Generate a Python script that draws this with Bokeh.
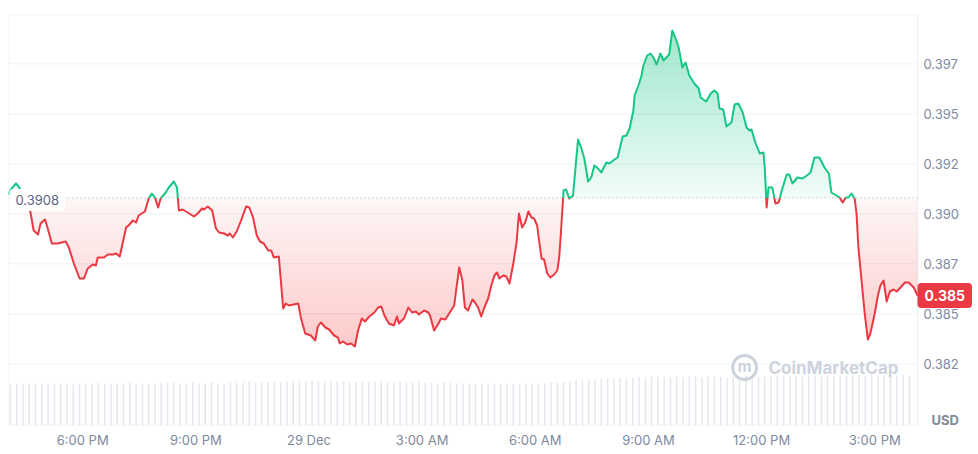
import math
import numpy as np
from bokeh.plotting import figure
from bokeh.models import Range1d, FixedTicker, Label
from bokeh.core.properties import value
from bokeh.embed import file_html
from bokeh.resources import INLINE

# ---- data -------------------------------------------------------------
# minutes since 28 Dec 16:00
minutes = [2, 7, 14, 18, 25, 31, 37, 42, 49, 53, 60, 64, 71, 80, 93, 98, 106, 115, 122, 128,
           136, 141, 144, 154, 160, 168, 173, 179, 189, 193, 200, 205, 209, 219, 225, 230, 235, 240, 244, 252,
           257, 265, 270, 273, 279, 287, 297, 303, 310, 313, 319, 326, 332, 337, 345, 351, 354, 359, 365, 372,
           380, 385, 391, 397, 402, 408, 415, 420, 424, 432, 439, 443, 448, 463, 467, 474, 483, 490, 494, 499,
           506, 512, 520, 526, 529, 534, 541, 547, 553, 558, 564, 569, 576, 584, 590, 595, 600, 607, 615, 620,
           623, 631, 638, 644, 650, 655, 663, 670, 673, 679, 686, 690, 697, 703, 711, 714, 719, 724, 728, 733,
           740, 744, 749, 754, 759, 765, 770, 775, 779, 783, 789, 794, 799, 805, 810, 814, 819, 824, 829, 834,
           838, 843, 846, 850, 854, 859, 864, 870, 875, 878, 881, 885, 889, 894, 900, 908, 913, 918, 924, 929,
           934, 940, 945, 953, 958, 966, 971, 979, 985, 990, 996, 998, 1004, 1009, 1012, 1018, 1023, 1028, 1033, 1039,
           1044, 1053, 1058, 1065, 1068, 1074, 1079, 1085, 1093, 1100, 1103, 1112, 1119, 1125, 1130, 1133, 1139, 1144, 1152, 1157,
           1163, 1170, 1176, 1181, 1184, 1190, 1197, 1203, 1205, 1208, 1211, 1217, 1222, 1227, 1233, 1240, 1244, 1249, 1257, 1265,
           1272, 1278, 1284, 1292, 1300, 1307, 1311, 1319, 1324, 1329, 1334, 1338, 1343, 1348, 1351, 1354, 1359, 1364, 1369, 1373,
           1380, 1385, 1389, 1394, 1399, 1404, 1410, 1415, 1421, 1428, 1434, 1442, 1448]

prices = [0.39097, 0.39127, 0.39152, 0.39137, 0.39102, 0.39062, 0.39007, 0.38917, 0.38897, 0.38952,
          0.38972, 0.38932, 0.38852, 0.38852, 0.38862, 0.38832, 0.38752, 0.38677, 0.38677, 0.38727,
          0.38747, 0.38742, 0.38782, 0.38782, 0.38797, 0.38797, 0.38802, 0.38787, 0.38932, 0.38942,
          0.38967, 0.38957, 0.38992, 0.39012, 0.39077, 0.39102, 0.39082, 0.39032, 0.39077, 0.39107,
          0.39132, 0.39162, 0.39132, 0.39017, 0.39022, 0.39007, 0.38987, 0.39002, 0.39027, 0.39022,
          0.39037, 0.39017, 0.38927, 0.38907, 0.38902, 0.38892, 0.38902, 0.38882, 0.38912, 0.38967,
          0.39037, 0.39032, 0.38982, 0.38892, 0.38862, 0.38852, 0.38817, 0.38817, 0.38782, 0.38787,
          0.38527, 0.38552, 0.38542, 0.38552, 0.38482, 0.38402, 0.38392, 0.38367, 0.38437, 0.38457,
          0.38432, 0.38422, 0.38392, 0.38382, 0.38352, 0.38362, 0.38347, 0.38352, 0.38337, 0.38417,
          0.38477, 0.38462, 0.38487, 0.38507, 0.38532, 0.38537, 0.38492, 0.38452, 0.38442, 0.38487,
          0.38452, 0.38477, 0.38532, 0.38507, 0.38512, 0.38497, 0.38517, 0.38507, 0.38487, 0.38417,
          0.38452, 0.38477, 0.38472, 0.38502, 0.38542, 0.38617, 0.38732, 0.38667, 0.38532, 0.38517,
          0.38572, 0.38557, 0.38532, 0.38487, 0.38532, 0.38577, 0.38642, 0.38692, 0.38707, 0.38677,
          0.38692, 0.38687, 0.38652, 0.38752, 0.38852, 0.39002, 0.38932, 0.38957, 0.39012, 0.38982,
          0.38977, 0.38942, 0.38867, 0.38777, 0.38772, 0.38702, 0.38682, 0.38697, 0.38717, 0.38782,
          0.38917, 0.39117, 0.39122, 0.39077, 0.39092, 0.39372, 0.39332, 0.39277, 0.39162, 0.39182,
          0.39242, 0.39227, 0.39207, 0.39257, 0.39252, 0.39272, 0.39282, 0.39387, 0.39392, 0.39427,
          0.39517, 0.39592, 0.39642, 0.39692, 0.39742, 0.39792, 0.39802, 0.39782, 0.39747, 0.39802,
          0.39767, 0.39797, 0.39917, 0.39862, 0.39832, 0.39732, 0.39757, 0.39692, 0.39652, 0.39627,
          0.39582, 0.39562, 0.39602, 0.39617, 0.39602, 0.39527, 0.39522, 0.39437, 0.39457, 0.39547,
          0.39552, 0.39507, 0.39432, 0.39417, 0.39422, 0.39357, 0.39302, 0.39307, 0.39232, 0.39032,
          0.39132, 0.39132, 0.39052, 0.39057, 0.39127, 0.39197, 0.39197, 0.39152, 0.39182, 0.39177,
          0.39192, 0.39207, 0.39282, 0.39282, 0.39232, 0.39202, 0.39107, 0.39092, 0.39082, 0.39057,
          0.39082, 0.39082, 0.39102, 0.39077, 0.39002, 0.38832, 0.38667, 0.38502, 0.38372, 0.38402,
          0.38502, 0.38592, 0.38642, 0.38667, 0.38562, 0.38612, 0.38622, 0.38612, 0.38632, 0.38657,
          0.38657, 0.38632, 0.38592]

base_price = 0.3908

# volume per 10 minutes (M USD), starting 16:00
volume = [4.1, 4.2, 4.1, 4.2, 4.2, 4.1, 4.2, 4.1, 4.2, 4.2, 4.1, 4.2,
          4.2, 4.2, 4.3, 4.2, 4.1, 4.2, 4.2, 4.3, 4.2, 4.2, 4.1, 4.2,
          4.2, 4.3, 4.3, 4.2, 4.2, 4.3, 4.2, 4.2, 4.3, 4.2, 4.2, 4.3,
          4.3, 4.3, 4.4, 4.3, 4.3, 4.4, 4.4, 4.3, 4.4, 4.4, 4.5, 4.4,
          4.5, 4.4, 4.4, 4.5, 4.4, 4.4, 4.3, 4.4, 4.4, 4.3, 4.4, 4.4,
          4.4, 4.3, 4.4, 4.3, 4.3, 4.4, 4.3, 4.3, 4.2, 4.3, 4.3, 4.2,
          4.2, 4.2, 4.1, 4.2, 4.2, 4.1, 4.1, 4.2, 4.1, 4.1, 4.2, 4.2,
          4.2, 4.2, 4.3, 4.3, 4.4, 4.4, 4.5, 4.5, 4.6, 4.6, 4.7, 4.7,
          4.7, 4.8, 4.8, 4.8, 4.9, 4.8, 4.9, 4.9, 4.8, 4.9, 4.9, 4.8,
          4.9, 4.9, 4.8, 4.9, 4.9, 4.9, 4.8, 4.9, 4.9, 5.0, 4.9, 4.9,
          4.9, 4.9, 5.0, 4.9, 4.9, 5.0, 4.9, 5.0, 5.0, 4.9, 5.0, 4.9,
          5.0, 5.0, 5.1, 5.0, 5.0, 5.1, 5.0, 5.0, 5.1, 5.0, 5.1, 5.0]
volume_step_min = 10

x_ticks = [18, 21, 24, 27, 30, 33, 36, 39]
x_labels = ["6:00 PM", "9:00 PM", "29 Dec", "3:00 AM", "6:00 AM", "9:00 AM", "12:00 PM", "3:00 PM"]
y_ticks = [0.3825, 0.385, 0.3875, 0.39, 0.3925, 0.395, 0.3975]
y_labels = ["0.382", "0.385", "0.387", "0.390", "0.392", "0.395", "0.397"]

GREEN = "#16c784"
RED = "#ea3943"
AXIS = "#808a9d"
GRID = "#eff2f5"
FONT = "Inter"

Y_LO, Y_HI = 0.37942, 0.39997

# ---- derived -----------------------------------------------------------
t = 16 + np.array(minutes, dtype=float) / 60.0
pr = np.array(prices, dtype=float)
t0, t1 = t[0], t[-1]
x_end = t1 + (t1 - t0) * 61.0 / 909.0   # room for the price scale

xs = [t[0]]
ys = [pr[0]]
for i in range(1, len(t)):
    a, b = pr[i - 1], pr[i]
    if (a - base_price) * (b - base_price) < 0:
        f = (base_price - a) / (b - a)
        xs.append(t[i - 1] + f * (t[i] - t[i - 1]))
        ys.append(base_price)
    xs.append(t[i])
    ys.append(b)
xs = np.array(xs)
ys = np.array(ys)
g_line = np.where(ys >= base_price, ys, np.nan)
r_line = np.where(ys <= base_price, ys, np.nan)

p = figure(width=978, height=454, output_backend="svg", toolbar_location=None,
           x_range=Range1d(t0, x_end), y_range=Range1d(Y_LO, Y_HI),
           y_axis_location=None, min_border_left=8, min_border_top=14,
           min_border_right=0, min_border_bottom=29)
p.outline_line_color = None
p.background_fill_color = "white"
p.border_fill_color = "white"
p.xgrid.grid_line_color = None
p.ygrid.grid_line_color = None

# grid lines of the price scale (stop at the chart edge)
n = len(y_ticks)
p.segment(x0=[t0] * n, y0=y_ticks, x1=[t1] * n, y1=y_ticks, line_color=GRID, line_width=1)
# chart frame
p.segment(x0=[t0, t0, t1, t0], y0=[Y_HI, Y_LO, Y_LO, Y_LO],
          x1=[t1, t1, t1, t0], y1=[Y_HI, Y_LO, Y_HI, Y_HI],
          line_color=GRID, line_width=1.5)

# volume
p.extra_y_ranges = {"vol": Range1d(0, 41.1)}
vt = 16 + (np.arange(len(volume)) * volume_step_min + volume_step_min / 2) / 60.0
p.vbar(x=vt, top=volume, bottom=0, width=volume_step_min / 60.0 * 0.24,
       y_range_name="vol", fill_color="#e4e8ee", line_color=None)

# gradient fills (layered)
N = 22
gmax = pr.max()
rmin = pr.min()
p.varea(x=xs, y1=np.full_like(ys, base_price), y2=np.maximum(ys, base_price),
        fill_color=GREEN, fill_alpha=0.06)
for i in range(1, N):
    lvl = base_price + (gmax - base_price) * i / N
    p.varea(x=xs, y1=np.full_like(ys, lvl), y2=np.maximum(ys, lvl),
            fill_color=GREEN, fill_alpha=0.017)
p.varea(x=xs, y1=np.minimum(ys, base_price), y2=np.full_like(ys, base_price),
        fill_color=RED, fill_alpha=0.05)
for i in range(1, N):
    lvl = base_price - (base_price - rmin) * i / N
    p.varea(x=xs, y1=np.minimum(ys, lvl), y2=np.full_like(ys, lvl),
            fill_color=RED, fill_alpha=0.012)

p.segment(x0=[t0], y0=[base_price], x1=[t1], y1=[base_price], line_color="#a7b1c2",
          line_dash="1 3", line_width=1)

p.line(xs, r_line, line_color=RED, line_width=2, line_join="round")
p.line(xs, g_line, line_color=GREEN, line_width=2, line_join="round")

# price scale labels
p.text(x=[t1] * n, y=y_ticks, text=y_labels, x_offset=6, text_baseline="middle",
       text_align="left", text_font=value(FONT), text_font_size=value("13px"),
       text_color=AXIS)

# x axis
ax = p.xaxis[0]
ax.ticker = FixedTicker(ticks=x_ticks)
ax.major_label_overrides = {k: v for k, v in zip(x_ticks, x_labels)}
ax.axis_line_color = None
ax.major_tick_line_color = None
ax.minor_tick_line_color = None
ax.major_tick_out = 0
ax.major_tick_in = 0
ax.minor_tick_out = 0
ax.major_label_standoff = 6
ax.major_label_text_color = AXIS
ax.major_label_text_font = FONT
ax.major_label_text_font_size = "13px"

# labels
p.add_layout(Label(x=t0, y=base_price, text=f"{base_price:.4f}", x_offset=1, y_offset=-2,
                   text_baseline="middle", text_align="left", text_font=FONT,
                   text_font_size="13px", text_color="#58667e",
                   background_fill_color="white", padding=6, border_radius=4))
last = pr[-1]
p.add_layout(Label(x=t1, y=last, text=f"{math.floor(last * 1000) / 1000:.3f}", x_offset=0,
                   text_baseline="middle", text_align="left", text_font=FONT,
                   text_font_size="14px", text_font_style="bold", text_color="white",
                   background_fill_color=RED, padding=7, border_radius=4))
p.add_layout(Label(x=t1, y=0.3797, text="USD", x_offset=14, text_baseline="middle",
                   text_align="left", text_font=FONT, text_font_size="13px",
                   text_font_style="bold", text_color=AXIS))
# watermark
p.scatter(x=[35.55], y=[0.38232], marker="circle", size=24, fill_color=None,
          line_color="#cdd3dd", line_width=3)
p.add_layout(Label(x=35.55, y=0.38232, text="m", text_baseline="middle", text_align="center",
                   text_font=FONT, text_font_size="15px", text_font_style="bold",
                   text_color="#cdd3dd", y_offset=1))
p.add_layout(Label(x=36.18, y=0.38232, text="CoinMarketCap", text_baseline="middle",
                   text_align="left", text_font=FONT, text_font_size="17px",
                   text_font_style="bold", text_color="#cdd3dd"))

open("out.html", "w").write(file_html(p, INLINE))
